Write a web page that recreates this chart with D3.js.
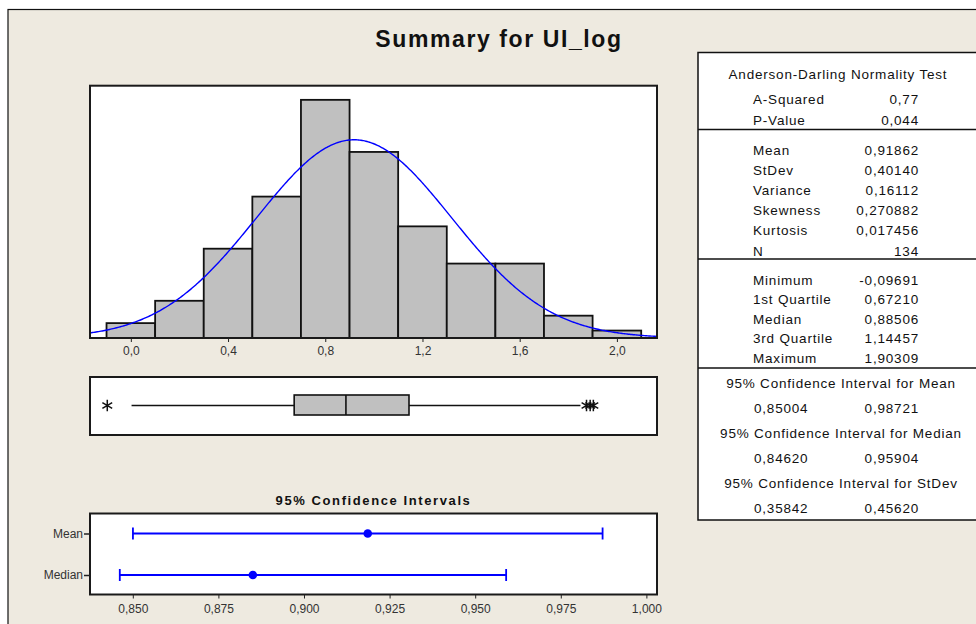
<!DOCTYPE html>
<html>
<head>
<meta charset="utf-8">
<script src="https://cdn.jsdelivr.net/npm/d3@7"></script>
<style>
  body { margin: 0; background: #fff; }
  svg { display: block; font-family: "Liberation Sans", Arial, sans-serif; }
</style>
</head>
<body>
<div id="chart"></div>
<script>
// histogram bins (start of each 0.2 wide bin) and counts
const binStarts = [-0.1, 0.1, 0.3, 0.5, 0.7, 0.9, 1.1, 1.3, 1.5, 1.7, 1.9];
const binWidth = 0.2;
const counts = [2, 5, 12, 19, 32, 25, 15, 10, 10, 3, 1];
const histTicks = [0.0, 0.4, 0.8, 1.2, 1.6, 2.0];

// summary statistics
const mean = 0.91862;
const stdev = 0.40140;
const n = 134;

// boxplot
const boxStats = { q1: 0.67210, median: 0.88506, q3: 1.14457, lowWhisker: 0.003, highWhisker: 1.85 };
const outliers = [-0.09691, 1.875, 1.89, 1.90309];

// confidence intervals
const ciNames = ["Mean", "Median"];
const ciCenters = [0.91862, 0.88506];
const ciLows = [0.85004, 0.84620];
const ciHighs = [0.98721, 0.95904];
const ciTicks = [0.850, 0.875, 0.900, 0.925, 0.950, 0.975, 1.000];

// table text
const adLabels = ["A-Squared", "P-Value"];
const adValues = ["0,77", "0,044"];
const descLabels = ["Mean", "StDev", "Variance", "Skewness", "Kurtosis", "N"];
const descValues = ["0,91862", "0,40140", "0,16112", "0,270882", "0,017456", "134"];
const quantLabels = ["Minimum", "1st Quartile", "Median", "3rd Quartile", "Maximum"];
const quantValues = ["-0,09691", "0,67210", "0,88506", "1,14457", "1,90309"];
const ciTitles = ["95% Confidence Interval for Mean", "95% Confidence Interval for Median", "95% Confidence Interval for StDev"];
const ciTableLow = ["0,85004", "0,84620", "0,35842"];
const ciTableHigh = ["0,98721", "0,95904", "0,45620"];

const W = 976, H = 624;
const bg = "#eeeae0";

const svg = d3.select("#chart").append("svg")
  .attr("width", W)
  .attr("height", H);

// page frame
svg.append("rect").attr("x", 0).attr("y", 0).attr("width", W).attr("height", H).attr("fill", "#fff");
svg.append("rect").attr("x", 8).attr("y", 9.5).attr("width", W + 20).attr("height", H + 20)
  .attr("fill", bg).attr("stroke", "#111").attr("stroke-width", 1.2);

// title
svg.append("text")
  .attr("x", 499).attr("y", 47)
  .attr("text-anchor", "middle")
  .style("font-size", "23px").style("font-weight", "bold").style("letter-spacing", "1.6px")
  .attr("fill", "#111")
  .text("Summary for UI_log");

// ---------- histogram ----------
const x = d3.scaleLinear().domain([-0.168, 2.165]).range([90, 657]);
const y = d3.scaleLinear().domain([0, 33.9]).range([338, 85.7]);

svg.append("rect").attr("x", 90).attr("y", 85.7).attr("width", 567).attr("height", 252.3)
  .attr("fill", "#fff");

const hist = svg.append("g");
hist.selectAll("rect")
  .data(binStarts)
  .enter().append("rect")
  .attr("x", d => x(d))
  .attr("y", (d, i) => y(counts[i]))
  .attr("width", d => x(d + binWidth) - x(d))
  .attr("height", (d, i) => y(0) - y(counts[i]))
  .attr("fill", "#c0c0c0")
  .attr("stroke", "#111")
  .attr("stroke-width", 1.8);

// fitted normal curve
const normal = xv => n * binWidth * Math.exp(-0.5 * ((xv - mean) / stdev) ** 2) / (stdev * Math.sqrt(2 * Math.PI));
const curveX = d3.range(x.domain()[0], x.domain()[1] + 0.001, 0.005);
svg.append("path")
  .datum(curveX)
  .attr("d", d3.line().x(d => x(d)).y(d => y(normal(d))))
  .attr("fill", "none")
  .attr("stroke", "#0000ff")
  .attr("stroke-width", 1.4);

svg.append("rect").attr("x", 90).attr("y", 85.7).attr("width", 567).attr("height", 252.3)
  .attr("fill", "none").attr("stroke", "#1a1a1a").attr("stroke-width", 2);

const xAxis = svg.append("g")
  .attr("transform", "translate(0,338)")
  .call(d3.axisBottom(x).tickValues(histTicks).tickSize(4).tickPadding(4).tickFormat(d => d3.format(".1f")(d).replace(".", ",")));
xAxis.select(".domain").remove();
xAxis.selectAll("line").attr("stroke", "#222");
xAxis.selectAll("text").style("font-size", "12px").attr("fill", "#333").style("font-family", "Liberation Sans, Arial");

// ---------- boxplot ----------
const boxTop = 377, boxBottom = 435, boxMid = 405.5;
svg.append("rect").attr("x", 90).attr("y", boxTop).attr("width", 567).attr("height", boxBottom - boxTop)
  .attr("fill", "#fff").attr("stroke", "#1a1a1a").attr("stroke-width", 2);

const bp = svg.append("g");
bp.append("line")
  .attr("x1", x(boxStats.lowWhisker)).attr("x2", x(boxStats.q1))
  .attr("y1", boxMid).attr("y2", boxMid).attr("stroke", "#111").attr("stroke-width", 1.4);
bp.append("line")
  .attr("x1", x(boxStats.q3)).attr("x2", x(boxStats.highWhisker))
  .attr("y1", boxMid).attr("y2", boxMid).attr("stroke", "#111").attr("stroke-width", 1.4);
bp.append("rect")
  .attr("x", x(boxStats.q1)).attr("y", 395)
  .attr("width", x(boxStats.q3) - x(boxStats.q1)).attr("height", 20)
  .attr("fill", "#c0c0c0").attr("stroke", "#111").attr("stroke-width", 1.6);
bp.append("line")
  .attr("x1", x(boxStats.median)).attr("x2", x(boxStats.median))
  .attr("y1", 395).attr("y2", 415).attr("stroke", "#111").attr("stroke-width", 1.6);

bp.selectAll("path.out")
  .data(outliers)
  .enter().append("path")
  .attr("class", "out")
  .attr("transform", d => `translate(${x(d)},${boxMid})`)
  .attr("d", d3.symbol(d3.symbolAsterisk, 90))
  .attr("fill", "none")
  .attr("stroke", "#111")
  .attr("stroke-width", 1.5);

// ---------- confidence intervals ----------
svg.append("text")
  .attr("x", 373.5).attr("y", 505)
  .attr("text-anchor", "middle")
  .style("font-size", "13px").style("font-weight", "bold").style("letter-spacing", "1.6px")
  .attr("fill", "#111")
  .text("95% Confidence Intervals");

const cx = d3.scaleLinear().domain([0.8375, 1.0031]).range([90, 657]);
const cy = d3.scalePoint().domain(ciNames).range([533.5, 575]);

svg.append("rect").attr("x", 90).attr("y", 513.5).attr("width", 567).attr("height", 81)
  .attr("fill", "#fff").attr("stroke", "#1a1a1a").attr("stroke-width", 2);

const ci = svg.append("g").selectAll("g")
  .data(ciNames)
  .enter().append("g");
ci.append("line")
  .attr("x1", (d, i) => cx(ciLows[i])).attr("x2", (d, i) => cx(ciHighs[i]))
  .attr("y1", d => cy(d)).attr("y2", d => cy(d))
  .attr("stroke", "#0000ff").attr("stroke-width", 1.8);
ci.append("line")
  .attr("x1", (d, i) => cx(ciLows[i])).attr("x2", (d, i) => cx(ciLows[i]))
  .attr("y1", d => cy(d) - 6).attr("y2", d => cy(d) + 6)
  .attr("stroke", "#0000ff").attr("stroke-width", 1.8);
ci.append("line")
  .attr("x1", (d, i) => cx(ciHighs[i])).attr("x2", (d, i) => cx(ciHighs[i]))
  .attr("y1", d => cy(d) - 6).attr("y2", d => cy(d) + 6)
  .attr("stroke", "#0000ff").attr("stroke-width", 1.8);
ci.append("circle")
  .attr("cx", (d, i) => cx(ciCenters[i])).attr("cy", d => cy(d))
  .attr("r", 4.3).attr("fill", "#0000ff");

const cxAxis = svg.append("g")
  .attr("transform", "translate(0,594.5)")
  .call(d3.axisBottom(cx).tickValues(ciTicks).tickSize(4).tickPadding(6).tickFormat(d => d3.format(".3f")(d).replace(".", ",")));
cxAxis.select(".domain").remove();
cxAxis.selectAll("line").attr("stroke", "#222");
cxAxis.selectAll("text").style("font-size", "12px").attr("fill", "#333").style("font-family", "Liberation Sans, Arial");

const cyAxis = svg.append("g")
  .attr("transform", "translate(90,0)")
  .call(d3.axisLeft(cy).tickSize(6).tickPadding(1));
cyAxis.select(".domain").remove();
cyAxis.selectAll("line").attr("stroke", "#222").attr("stroke-width", 1.5);
cyAxis.selectAll("text").style("font-size", "12px").attr("fill", "#333").style("font-family", "Liberation Sans, Arial");

// ---------- statistics table ----------
const tbl = svg.append("g").style("font-size", "13.5px").style("letter-spacing", "0.8px").attr("fill", "#111");
tbl.append("rect").attr("x", 698).attr("y", 52.5).attr("width", 300).attr("height", 467.5)
  .attr("fill", "#fff").attr("stroke", "#111").attr("stroke-width", 1.5);
[129.5, 259, 368].forEach(yy => {
  tbl.append("line").attr("x1", 698).attr("x2", W).attr("y1", yy).attr("y2", yy)
    .attr("stroke", "#111").attr("stroke-width", 1.6);
});

tbl.append("text").attr("x", 838).attr("y", 74).attr("text-anchor", "middle")
  .attr("dominant-baseline", "central").text("Anderson-Darling Normality Test");

function rows(labels, values, y0, step) {
  labels.forEach((lab, i) => {
    tbl.append("text").attr("x", 753).attr("y", y0 + i * step)
      .attr("dominant-baseline", "central").text(lab);
    tbl.append("text").attr("x", 919).attr("y", y0 + i * step)
      .attr("text-anchor", "end").attr("dominant-baseline", "central").text(values[i]);
  });
}
rows(adLabels, adValues, 99.5, 20.5);
rows(descLabels, descValues, 150, 20.2);
rows(quantLabels, quantValues, 280, 19.6);

ciTitles.forEach((t, i) => {
  const y0 = 383 + i * 50;
  tbl.append("text").attr("x", 841).attr("y", y0).attr("text-anchor", "middle")
    .attr("dominant-baseline", "central").text(t);
  tbl.append("text").attr("x", 754).attr("y", y0 + 25.5)
    .attr("dominant-baseline", "central").text(ciTableLow[i]);
  tbl.append("text").attr("x", 919).attr("y", y0 + 25.5).attr("text-anchor", "end")
    .attr("dominant-baseline", "central").text(ciTableHigh[i]);
});
</script>
</body>
</html>
